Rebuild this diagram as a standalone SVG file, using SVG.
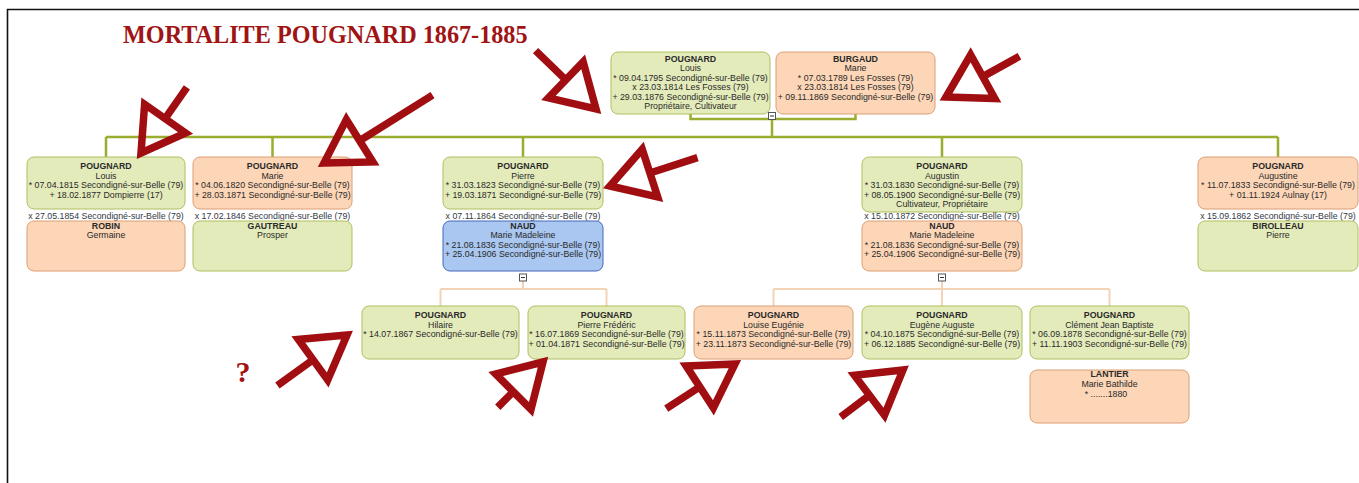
<svg xmlns="http://www.w3.org/2000/svg" width="1359" height="483" viewBox="0 0 1359 483">
<style>
.bg{fill:#ffffff}
.frame{stroke:#111;stroke-width:1.6;fill:none}
.title{font-family:"Liberation Serif","Times New Roman",serif;font-weight:bold;font-size:24.2px;fill:#a01414}
.q{font-family:"Liberation Serif","Times New Roman",serif;font-weight:bold;font-size:30px;fill:#a01414;text-anchor:middle}
.g{fill:#e4ebbb;stroke:#afbf5f;stroke-width:1}
.o{fill:#fcd6b7;stroke:#dc9e74;stroke-width:1}
.b{fill:#a9c7f0;stroke:#4668b8;stroke-width:1}
text.n,text.t,text.m{font-family:"Liberation Sans",Arial,sans-serif;font-size:8.8px;text-anchor:middle;fill:#2a2a2a}
text.n{font-weight:bold}
text.m{fill:#333a44}
.cg{stroke:#9aad2e;stroke-width:2.5;fill:none}
.co{stroke:#f2d3b5;stroke-width:2;fill:none}
.sq{fill:#fff;stroke:#555;stroke-width:1}
.mi{stroke:#333;stroke-width:1}
.arr{stroke:#a10e11;stroke-width:7.5;fill:none;stroke-linejoin:miter;stroke-linecap:butt}
</style>
<rect class="bg" x="0" y="0" width="1359" height="483"/>
<path class="frame" d="M7.5,483 V9.5 H1359"/>
<text class="title" x="123" y="43">MORTALITE POUGNARD 1867-1885</text>

<g id="connectors">
<path class="cg" d="M690.5,114 V119 H855.5 V114"/>
<path class="cg" d="M772,119 V137 M106,137 H1278 M106,137 V157 M272.5,137 V157 M523,137 V157 M942,137 V157 M1278,137 V157"/>
<rect class="sq" x="768.5" y="112.5" width="7" height="7"/><path class="mi" d="M770,116 H774"/>
<path class="co" d="M523,281 V289 M440.5,289 H606.5 M440.5,289 V306 M606.5,289 V306"/>
<path class="co" d="M942,281 V289 M773.5,289 H1109.5 M773.5,289 V306 M942,289 V306 M1109.5,289 V306"/>
<rect class="sq" x="519.5" y="274" width="7" height="7"/><path class="mi" d="M521,277.5 H525"/>
<rect class="sq" x="938.5" y="274" width="7" height="7"/><path class="mi" d="M940,277.5 H944"/>
</g>

<g id="n1"><rect class="g" x="611" y="52" width="159" height="62" rx="7"/>
<text class="n" x="690.5" y="61.5">POUGNARD</text><text class="t" x="690.5" y="71">Louis</text>
<text class="t" x="690.5" y="80.5">* 09.04.1795 Secondigné-sur-Belle (79)</text>
<text class="t" x="690.5" y="90">x 23.03.1814 Les Fosses (79)</text>
<text class="t" x="690.5" y="99.5">+ 29.03.1876 Secondigné-sur-Belle (79)</text>
<text class="t" x="690.5" y="109">Propriétaire, Cultivateur</text></g>

<g id="n2"><rect class="o" x="776" y="52" width="159" height="62" rx="7"/>
<text class="n" x="855.5" y="61.5">BURGAUD</text><text class="t" x="855.5" y="71">Marie</text>
<text class="t" x="855.5" y="80.5">* 07.03.1789 Les Fosses (79)</text>
<text class="t" x="855.5" y="90">x 23.03.1814 Les Fosses (79)</text>
<text class="t" x="855.5" y="99.5">+ 09.11.1869 Secondigné-sur-Belle (79)</text></g>

<g id="n3"><rect class="g" x="27" y="157" width="158" height="52" rx="7"/>
<text class="n" x="106" y="169">POUGNARD</text><text class="t" x="106" y="178.5">Louis</text>
<text class="t" x="106" y="188">* 07.04.1815 Secondigné-sur-Belle (79)</text>
<text class="t" x="106" y="197.5">+ 18.02.1877 Dompierre (17)</text></g>
<text class="m" x="106" y="218.5">x 27.05.1854 Secondigné-sur-Belle (79)</text>
<g id="n4"><rect class="o" x="27" y="221" width="158" height="50" rx="7"/>
<text class="n" x="106" y="228.5">ROBIN</text><text class="t" x="106" y="238">Germaine</text></g>

<g id="n5"><rect class="o" x="193" y="157" width="159" height="52" rx="7"/>
<text class="n" x="272.5" y="169">POUGNARD</text><text class="t" x="272.5" y="178.5">Marie</text>
<text class="t" x="272.5" y="188">* 04.06.1820 Secondigné-sur-Belle (79)</text>
<text class="t" x="272.5" y="197.5">+ 28.03.1871 Secondigné-sur-Belle (79)</text></g>
<text class="m" x="272.5" y="218.5">x 17.02.1846 Secondigné-sur-Belle (79)</text>
<g id="n6"><rect class="g" x="193" y="221" width="159" height="50" rx="7"/>
<text class="n" x="272.5" y="228.5">GAUTREAU</text><text class="t" x="272.5" y="238">Prosper</text></g>

<g id="n7"><rect class="g" x="443" y="157" width="160" height="52" rx="7"/>
<text class="n" x="523" y="169">POUGNARD</text><text class="t" x="523" y="178.5">Pierre</text>
<text class="t" x="523" y="188">* 31.03.1823 Secondigné-sur-Belle (79)</text>
<text class="t" x="523" y="197.5">+ 19.03.1871 Secondigné-sur-Belle (79)</text></g>
<text class="m" x="523" y="218.5">x 07.11.1864 Secondigné-sur-Belle (79)</text>
<g id="n8"><rect class="b" x="443" y="221" width="160" height="50" rx="7"/>
<text class="n" x="523" y="228.5">NAUD</text><text class="t" x="523" y="238">Marie Madeleine</text>
<text class="t" x="523" y="247.5">* 21.08.1836 Secondigné-sur-Belle (79)</text>
<text class="t" x="523" y="257">+ 25.04.1906 Secondigné-sur-Belle (79)</text></g>

<g id="n9"><rect class="g" x="862" y="157" width="160" height="55" rx="7"/>
<text class="n" x="942" y="169">POUGNARD</text><text class="t" x="942" y="178.5">Augustin</text>
<text class="t" x="942" y="188">* 31.03.1830 Secondigné-sur-Belle (79)</text>
<text class="t" x="942" y="197.5">+ 08.05.1900 Secondigné-sur-Belle (79)</text>
<text class="t" x="942" y="207">Cultivateur, Propriétaire</text></g>
<text class="m" x="942" y="218.5">x 15.10.1872 Secondigné-sur-Belle (79)</text>
<g id="n10"><rect class="o" x="862" y="221" width="160" height="50" rx="7"/>
<text class="n" x="942" y="228.5">NAUD</text><text class="t" x="942" y="238">Marie Madeleine</text>
<text class="t" x="942" y="247.5">* 21.08.1836 Secondigné-sur-Belle (79)</text>
<text class="t" x="942" y="257">+ 25.04.1906 Secondigné-sur-Belle (79)</text></g>

<g id="n11"><rect class="o" x="1198" y="157" width="160" height="52" rx="7"/>
<text class="n" x="1278" y="169">POUGNARD</text><text class="t" x="1278" y="178.5">Augustine</text>
<text class="t" x="1278" y="188">* 11.07.1833 Secondigné-sur-Belle (79)</text>
<text class="t" x="1278" y="197.5">+ 01.11.1924 Aulnay (17)</text></g>
<text class="m" x="1278" y="218.5">x 15.09.1862 Secondigné-sur-Belle (79)</text>
<g id="n12"><rect class="g" x="1198" y="221" width="160" height="50" rx="7"/>
<text class="n" x="1278" y="228.5">BIROLLEAU</text><text class="t" x="1278" y="238">Pierre</text></g>

<g id="n13"><rect class="g" x="362" y="306" width="157" height="53" rx="7"/>
<text class="n" x="440.5" y="318">POUGNARD</text><text class="t" x="440.5" y="327.7">Hilaire</text>
<text class="t" x="440.5" y="337.4">* 14.07.1867 Secondigné-sur-Belle (79)</text></g>

<g id="n14"><rect class="g" x="528" y="306" width="157" height="53" rx="7"/>
<text class="n" x="606.5" y="318">POUGNARD</text><text class="t" x="606.5" y="327.7">Pierre Frédéric</text>
<text class="t" x="606.5" y="337.4">* 16.07.1869 Secondigné-sur-Belle (79)</text>
<text class="t" x="606.5" y="347.1">+ 01.04.1871 Secondigné-sur-Belle (79)</text></g>

<g id="n15"><rect class="o" x="694" y="306" width="159" height="53" rx="7"/>
<text class="n" x="773.5" y="318">POUGNARD</text><text class="t" x="773.5" y="327.7">Louise Eugénie</text>
<text class="t" x="773.5" y="337.4">* 15.11.1873 Secondigné-sur-Belle (79)</text>
<text class="t" x="773.5" y="347.1">+ 23.11.1873 Secondigné-sur-Belle (79)</text></g>

<g id="n16"><rect class="g" x="862" y="306" width="160" height="53" rx="7"/>
<text class="n" x="942" y="318">POUGNARD</text><text class="t" x="942" y="327.7">Eugène Auguste</text>
<text class="t" x="942" y="337.4">* 04.10.1875 Secondigné-sur-Belle (79)</text>
<text class="t" x="942" y="347.1">+ 06.12.1885 Secondigné-sur-Belle (79)</text></g>

<g id="n17"><rect class="g" x="1030" y="306" width="159" height="53" rx="7"/>
<text class="n" x="1109.5" y="318">POUGNARD</text><text class="t" x="1109.5" y="327.7">Clément Jean Baptiste</text>
<text class="t" x="1109.5" y="337.4">* 06.09.1878 Secondigné-sur-Belle (79)</text>
<text class="t" x="1109.5" y="347.1">+ 11.11.1903 Secondigné-sur-Belle (79)</text></g>

<g id="n18"><rect class="o" x="1030" y="370" width="159" height="53" rx="7"/>
<text class="n" x="1109.5" y="377">LANTIER</text><text class="t" x="1109.5" y="387">Marie Bathilde</text>
<text class="t" x="1106" y="397">* .......1880</text></g>

<g id="arrows">
<g class="arr" transform="translate(596,109) rotate(44)"><path d="M-84,0 H-42 M0,0 L-42,-25 L-42,25 Z"/></g>
<g class="arr" transform="translate(946,97) rotate(151)"><path d="M-84,0 H-42 M0,0 L-42,-25 L-42,25 Z"/></g>
<g class="arr" transform="translate(141,153) rotate(125)"><path d="M-80,0 H-42 M0,0 L-42,-25 L-42,25 Z"/></g>
<g class="arr" transform="translate(324,163) rotate(148)"><path d="M-128,0 H-42 M0,0 L-42,-25 L-42,25 Z"/></g>
<g class="arr" transform="translate(610,186) rotate(162)"><path d="M-92,0 H-42 M0,0 L-42,-25 L-42,25 Z"/></g>
<g class="arr" transform="translate(347,335) rotate(-36)"><path d="M-86,0 H-42 M0,0 L-42,-25 L-42,25 Z"/></g>
<g class="arr" transform="translate(543,362) rotate(-45)"><path d="M-64,0 H-42 M0,0 L-42,-25 L-42,25 Z"/></g>
<g class="arr" transform="translate(735,364) rotate(-33)"><path d="M-82,0 H-42 M0,0 L-42,-25 L-42,25 Z"/></g>
<g class="arr" transform="translate(903,370) rotate(-37)"><path d="M-78,0 H-42 M0,0 L-42,-25 L-42,25 Z"/></g>
</g>
<text class="q" x="243" y="382">?</text>
</svg>
